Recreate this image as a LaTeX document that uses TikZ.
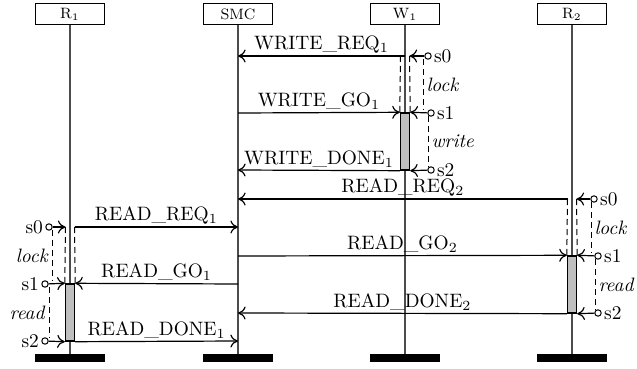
\documentclass[tikz,border=0pt]{standalone}
\usetikzlibrary{arrows.meta}
\begin{document}
\begin{tikzpicture}[x=0.5pt,y=-0.5pt,
  head/.style={draw, line width=0.5pt, minimum width=34.5pt, minimum height=10.5pt, inner sep=0pt, font=\fontsize{7.5}{8}\selectfont},
  life/.style={draw=black!70, line width=0.7pt},
  act/.style={draw, fill=black!25, line width=0.7pt, minimum width=4.5pt, inner sep=0pt},
  msg/.style={-{To[length=3.8pt,width=6.5pt]}, line width=0.6pt},
  lbl/.style={above, inner sep=1.2pt, font=\fontsize{9.7}{10}\selectfont},
  st/.style={circle, draw, fill=white, line width=0.5pt, inner sep=0pt, minimum size=3.2pt},
  slbl/.style={font=\fontsize{9.7}{10}\selectfont, inner sep=1pt},
  dsh/.style={dash pattern=on 3pt off 2pt, line width=0.5pt},
]
\useasboundingbox (0,0) rectangle (637,369);

% heads
\node[head] (R1) at (70,14.5) {R$_1$};
\node[head] (SMC) at (238,14.5) {SMC};
\node[head] (W1) at (405,14.5) {W$_1$};
\node[head] (R2) at (572,14.5) {R$_2$};

% lifeline ends
\coordinate (R1e) at (70,354);
\coordinate (SMCe) at (238,354);
\coordinate (W1e) at (405,354);
\coordinate (R2e) at (572,354);
\foreach \n in {R1,SMC,W1,R2}{
  \draw[life] (\n) -- (\n e);
  \fill ([xshift=-17.5pt]\n e) rectangle ([xshift=17.5pt,yshift=-4pt]\n e);
}

% activity boxes
\node[act, minimum height=28.5pt] (Wa) at (405,141.5) {};
\node[act, minimum height=28.5pt] (R2a) at (572,284.5) {};
\node[act, minimum height=28.5pt] (R1a) at (70,312.5) {};

% dashed pre-activation
\draw[dsh] ([xshift=-2.25pt]W1 |- 0,56) -- (Wa.north west);
\draw[dsh] ([xshift=2.25pt]W1 |- 0,56) -- (Wa.north east);
\draw[dsh] ([xshift=-2.25pt]R2 |- 0,199) -- (R2a.north west);
\draw[dsh] ([xshift=2.25pt]R2 |- 0,199) -- (R2a.north east);
\draw[dsh] ([xshift=-2.25pt]R1 |- 0,227) -- (R1a.north west);
\draw[dsh] ([xshift=2.25pt]R1 |- 0,227) -- (R1a.north east);

% states W1
\node[st] (Ws0) at (428,56) {};
\node[st] (Ws1) at (431,113) {};
\node[st] (Ws2) at (431,170) {};
\node[slbl, right] at (Ws0.east) {s0};
\node[slbl, right] at (Ws1.east) {s1};
\node[slbl, right] at (Ws2.east) {s2};
\draw[msg] (Ws0) -- ([xshift=2.25pt]W1 |- Ws0);
\draw[msg] (Ws1) -- (Wa.north east);
\draw[msg] (Ws2) -- (Wa.south east);
\draw[dsh] (423,59) -- node[slbl, right=0.5pt]{\textit{lock}} (423,110);
\draw[dsh] (428,116) -- node[slbl, right=0.5pt]{\textit{write}} (428,167);

% states R2
\node[st] (R2s0) at (594,199) {};
\node[st] (R2s1) at (598,256) {};
\node[st] (R2s2) at (598,313) {};
\node[slbl, right] at (R2s0.east) {s0};
\node[slbl, right] at (R2s1.east) {s1};
\node[slbl, right] at (R2s2.east) {s2};
\draw[msg] (R2s0) -- ([xshift=2.25pt]R2 |- R2s0);
\draw[msg] (R2s1) -- (R2a.north east);
\draw[msg] (R2s2) -- (R2a.south east);
\draw[dsh] (591,202) -- node[slbl, right=0.5pt]{\textit{lock}} (591,253);
\draw[dsh] (595,259) -- node[slbl, right=0.5pt]{\textit{read}} (595,310);

% states R1
\node[st] (R1s0) at (49,227) {};
\node[st] (R1s1) at (45,284) {};
\node[st] (R1s2) at (45,341) {};
\node[slbl, left] at (R1s0.west) {s0};
\node[slbl, left] at (R1s1.west) {s1};
\node[slbl, left] at (R1s2.west) {s2};
\draw[msg] (R1s0) -- ([xshift=-2.25pt]R1 |- R1s0);
\draw[msg] (R1s1) -- (R1a.north west);
\draw[msg] (R1s2) -- (R1a.south west);
\draw[dsh] (52,230) -- node[slbl, left=0.5pt]{\textit{lock}} (52,281);
\draw[dsh] (49,287) -- node[slbl, left=0.5pt]{\textit{read}} (49,338);

% messages
\draw[msg] (W1 |- Ws0) -- node[lbl]{WRITE\_REQ$_1$} (SMC |- Ws0);
\draw[msg] (SMC |- Ws1) -- node[lbl]{WRITE\_GO$_1$} (Wa.north west);
\draw[msg] (Wa.south west) -- node[lbl]{WRITE\_DONE$_1$} (SMC |- Ws2);
\draw[msg] ([xshift=-2.25pt]R2 |- R2s0) -- node[lbl]{READ\_REQ$_2$} (SMC |- R2s0);
\draw[msg] (SMC |- R2s1) -- node[lbl]{READ\_GO$_2$} (R2a.north west);
\draw[msg] (R2a.south west) -- node[lbl]{READ\_DONE$_2$} (SMC |- R2s2);
\draw[msg] ([xshift=2.25pt]R1 |- R1s0) -- node[lbl]{READ\_REQ$_1$} (SMC |- R1s0);
\draw[msg] (SMC |- R1s1) -- node[lbl]{READ\_GO$_1$} (R1a.north east);
\draw[msg] (R1a.south east) -- node[lbl]{READ\_DONE$_1$} (SMC |- R1s2);
\end{tikzpicture}
\end{document}
